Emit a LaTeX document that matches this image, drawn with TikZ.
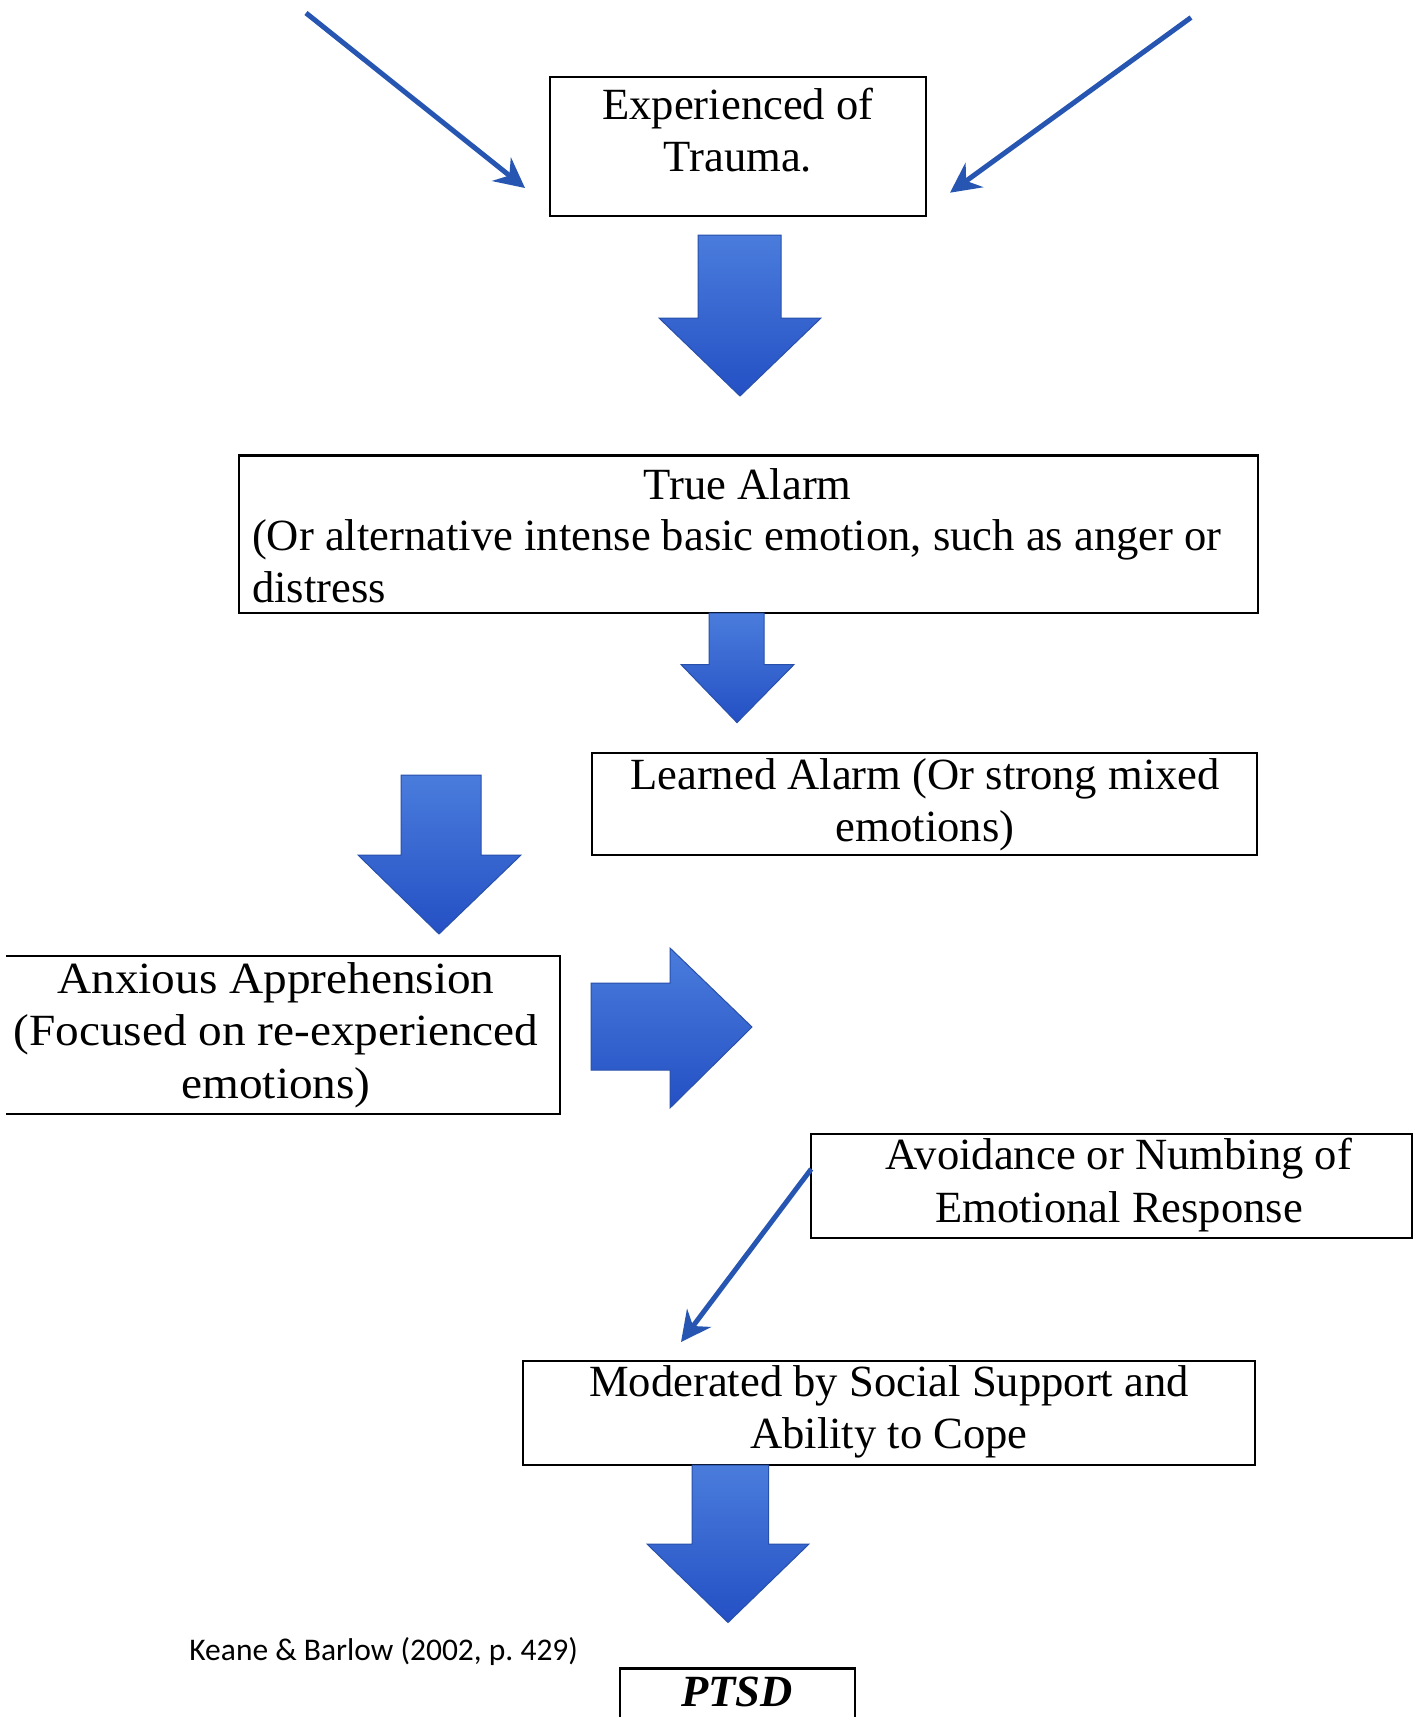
\documentclass[tikz,border=0pt]{standalone}
\usepackage{fontspec}
\setmainfont{Liberation Serif}
\newfontfamily\cambfont{Liberation Serif}
\newfontfamily\cambwide[FakeStretch=1.06]{Liberation Serif}
\newfontfamily\calfont{Carlito}
\usetikzlibrary{arrows.meta}
\definecolor{thinblue}{RGB}{38,86,178}
\definecolor{arrtop}{RGB}{74,124,220}
\definecolor{arrbot}{RGB}{36,80,196}
\definecolor{arredge}{RGB}{40,80,170}
\tikzset{
  boxnode/.style={draw=black, line width=2.2pt, inner sep=0pt},
  txt/.style={font=\fontsize{44.6}{52.5}\selectfont, align=center, inner sep=0pt},
  camtxt/.style={font=\cambfont\fontsize{44.6}{52.5}\selectfont, align=center, inner sep=0pt},
  thinarrow/.style={draw=thinblue, line width=5pt, -{Stealth[length=30pt,width=30pt,inset=10pt]}},
  bigarrow/.style={top color=arrtop, bottom color=arrbot, draw=arredge, line width=1pt}
}
\begin{document}
\begin{tikzpicture}[x=1pt,y=-1pt]
\useasboundingbox[fill=white] (0,0) rectangle (1421,1717);

% boxes
\node[boxnode, minimum width=376.6, minimum height=139] (trauma) at (737.9,146.2) {};
\node[txt] (traumatext) at (737.9,130) {Experienced of\\Trauma.};

\node[boxnode, minimum width=1019.5, minimum height=157.5] (alarm) at (748.4,534.3) {};
\node[txt] (alarmtitle) at (747.7,484) {True Alarm};
\node[txt, align=left, anchor=west] (alarmtext) at (251.8,561)
  {(Or alternative intense basic emotion, such as anger or\\distress};

\node[boxnode, minimum width=664.5, minimum height=101.8] (learned) at (924.5,804.1) {};
\node[camtxt] (learnedtext) at (925,804.7) {Learned Alarm (Or strong mixed\\emotions)};

\node[inner sep=0pt, minimum width=552.8, minimum height=157.6] (anx) at (283,1034.6) {};
\draw[line width=2.2pt] (anx.north west) -- (anx.north east) -- (anx.south east) -- (anx.south west);
\node[camtxt, font=\cambwide\fontsize{44.6}{52.5}\selectfont] (anxtext) at (276,1035) {Anxious Apprehension\\(Focused on re-experienced\\emotions)};

\node[boxnode, minimum width=601, minimum height=104] (avoid) at (1111.8,1186.2) {};
\node[txt] (avoidtext) at (1119,1185) {Avoidance or Numbing of\\Emotional Response};

\node[boxnode, minimum width=731.3, minimum height=104] (moder) at (889,1412.8) {};
\node[txt] (modertext) at (889,1411.8) {Moderated by Social Support and\\Ability to Cope};

\node[boxnode, minimum width=235.3, minimum height=120, anchor=north] (ptsd) at (737.3,1667.4) {};
\node[txt, font=\bfseries\itshape\fontsize{44.6}{52.5}\selectfont] (ptsdtext) at (737,1692) {PTSD};

\node[inner sep=0pt, font=\calfont\fontsize{31.5}{38}\selectfont] (cite) at (383.7,1651) {Keane \& Barlow (2002, p.\ 429)};

% thin arrows
\coordinate (tlstart) at (306,13);
\coordinate (tlend) at (525,188);
\coordinate (trstart) at (1191,17.5);
\coordinate (trend) at (950,192.7);
\coordinate (avstart) at (811.2,1169);
\coordinate (avend) at (681,1342);
\draw[thinarrow] (tlstart) -- (tlend);
\draw[thinarrow] (trstart) -- (trend);
\draw[thinarrow] (avstart) -- (avend);

% block arrows
\path[bigarrow] (698,235)--(781,235)--(781,318)--(821,318)--(740,396)--(659,318)--(698,318)--cycle;
\path[bigarrow] (709,613)--(764,613)--(764,664.5)--(794,664.5)--(737,722.6)--(681,664.5)--(709,664.5)--cycle;
\path[bigarrow] (401,775)--(481,775)--(481,855)--(521,855)--(439,934)--(358,855)--(401,855)--cycle;
\path[bigarrow] (591,983)--(670,983)--(670,948)--(752,1027)--(670,1108)--(670,1070)--(591,1070)--cycle;
\path[bigarrow] (692,1465)--(768.5,1465)--(768.5,1544)--(809,1544)--(728,1622.5)--(647,1544)--(692,1544)--cycle;
\end{tikzpicture}
\end{document}
